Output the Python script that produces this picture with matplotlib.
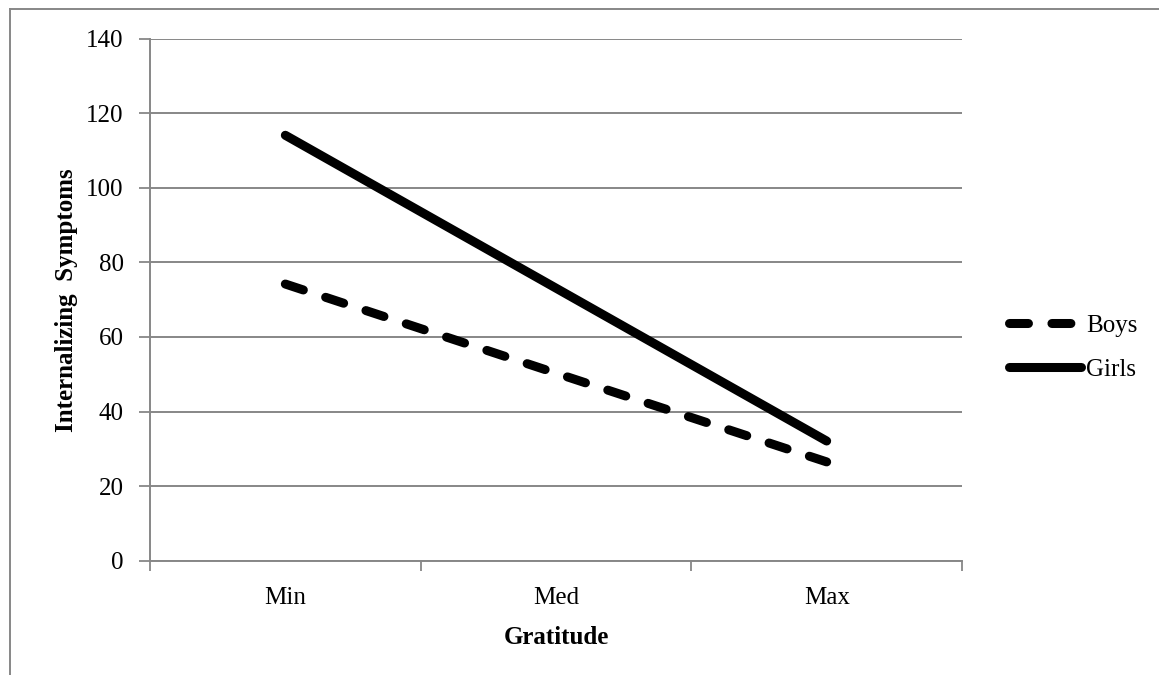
import matplotlib
matplotlib.use('Agg')
import matplotlib.pyplot as plt
from matplotlib.lines import Line2D

plt.rcParams['font.family'] = ['Liberation Serif', 'DejaVu Serif']
plt.rcParams['font.size'] = 18

categories = ['Min', 'Med', 'Max']
boys = [74.2, 50.3, 26.5]
girls = [114.1, 73.1, 32.1]
yticks = [0, 20, 40, 60, 80, 100, 120, 140]

grid_c = '#878787'

fig = plt.figure(figsize=(11.59, 6.75), dpi=100)
ax = fig.add_axes([150/1159, 1-560.7/675, 812/1159, 522/675])

x = list(range(len(categories)))
lb, = ax.plot(x, boys, color='black', lw=6.5, solid_capstyle='round',
              dash_capstyle='round', label='Boys')
lb.set_dashes((2.1, 2.6))
ax.plot(x, girls, color='black', lw=6.5, solid_capstyle='round', label='Girls')

ax.set_xlim(-0.5, 2.5)
ax.set_ylim(0, 140)
ax.set_yticks(yticks)
ax.set_xticks(x)
ax.set_xticklabels(categories)
ax.set_xticks([-0.5, 0.5, 1.5, 2.5], minor=True)
ax.tick_params(axis='x', which='major', length=0, pad=19)
ax.tick_params(axis='x', which='minor', length=7, color=grid_c, width=1.3, direction='out')
ax.tick_params(axis='y', length=8, color=grid_c, width=1.3, pad=11)

ax.yaxis.grid(True, color=grid_c, lw=1.4)
ax.set_axisbelow(True)
for s in ['top', 'right']:
    ax.spines[s].set_visible(False)
for s in ['left', 'bottom']:
    ax.spines[s].set_color(grid_c)
    ax.spines[s].set_linewidth(1.4)

ax.set_xlabel('Gratitude', fontweight='bold', labelpad=12)
ax.set_ylabel('Internalizing  Symptoms', fontweight='bold', labelpad=6)

ax.legend(loc='center left', bbox_to_anchor=(1.03, 0.408), frameon=False,
          handlelength=2.9, handletextpad=0.2, labelspacing=0.85)

# outer frame
fig.add_artist(Line2D([10/1159, 1], [1-9/675, 1-9/675], color=grid_c, lw=1.4))
fig.add_artist(Line2D([10/1159, 10/1159], [0, 1-9/675], color=grid_c, lw=1.4))

fig.savefig('out.png', dpi=100)
